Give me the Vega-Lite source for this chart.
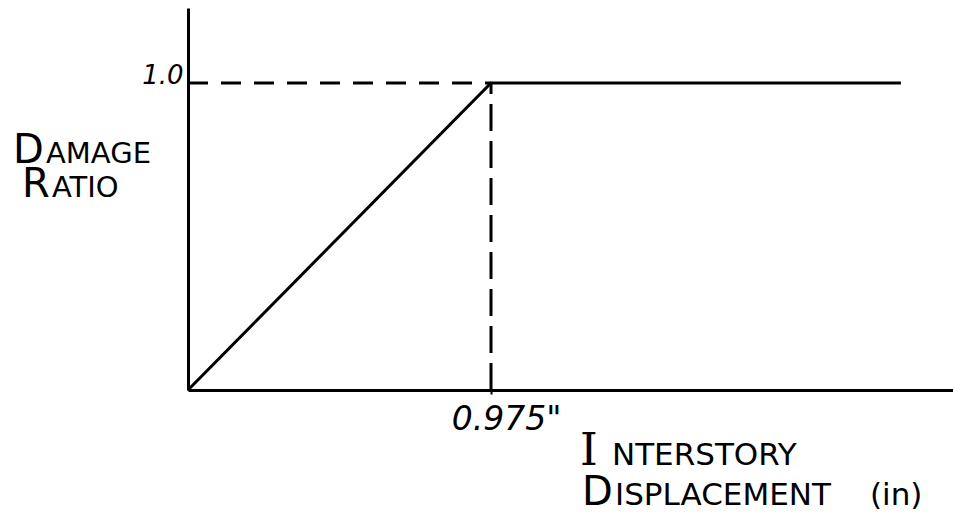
{
  "$schema": "https://vega.github.io/schema/vega-lite/v6.json",
  "width": 765,
  "height": 382,
  "autosize": {"type": "none"},
  "padding": {"left": 188, "top": 8, "right": 0, "bottom": 124},
  "background": "white",
  "config": {"view": {"stroke": null}, "font": "DejaVu Sans"},
  "datasets": {
    "curve": [
      {"x": 0, "y": 0},
      {"x": 0.975, "y": 1},
      {"x": 2.294, "y": 1}
    ],
    "labels": [
      {"role": "cap", "text": "D", "x": -0.5631, "y": 0.7394},
      {"role": "small", "text": "AMAGE", "x": -0.4569, "y": 0.7394},
      {"role": "cap", "text": "R", "x": -0.5342, "y": 0.6287},
      {"role": "small", "text": "ATIO", "x": -0.4376, "y": 0.6287},
      {"role": "serif", "text": "I", "x": 1.2614, "y": -0.2443},
      {"role": "mid", "text": "NTERSTORY", "x": 1.3643, "y": -0.2443},
      {"role": "cap", "text": "D", "x": 1.2678, "y": -0.3746},
      {"role": "mid", "text": "ISPLACEMENT", "x": 1.3740, "y": -0.3746},
      {"role": "mid", "text": "(in)", "x": 2.1945, "y": -0.3746}
    ]
  },
  "encoding": {
    "x": {
      "field": "x", "type": "quantitative",
      "scale": {"domain": [0, 2.4616], "nice": false, "zero": false},
      "axis": {
        "title": null, "grid": false, "values": [0.975],
        "labelExpr": "'0.975\"'",
        "labelFont": "DejaVu Sans", "labelFontStyle": "italic", "labelFontSize": 33,
        "labelColor": "black", "labelPadding": 9, "labelOffset": 15,
        "tickSize": 4, "tickWidth": 2, "tickColor": "black",
        "domainColor": "black", "domainWidth": 3
      }
    },
    "y": {
      "field": "y", "type": "quantitative",
      "scale": {"domain": [0, 1.2443], "nice": false, "zero": false},
      "axis": {
        "title": null, "grid": false, "values": [1],
        "labelExpr": "'1.0'",
        "labelFont": "DejaVu Sans", "labelFontStyle": "italic", "labelFontSize": 26,
        "labelColor": "black", "labelPadding": 5, "labelOffset": -8,
        "ticks": false,
        "domainColor": "black", "domainWidth": 3
      }
    }
  },
  "layer": [
    {
      "data": {"name": "curve"},
      "mark": {"type": "line", "color": "black", "strokeWidth": 3, "clip": false}
    },
    {
      "data": {"values": [{"x": 0, "x2": 0.975, "y": 1}]},
      "mark": {"type": "rule", "color": "black", "strokeWidth": 3, "strokeDash": [20, 13]},
      "encoding": {"x2": {"field": "x2"}}
    },
    {
      "data": {"values": [{"x": 0.975, "y": 0, "y2": 1}]},
      "mark": {"type": "rule", "color": "black", "strokeWidth": 3, "strokeDash": [27, 10]},
      "encoding": {"y2": {"field": "y2"}}
    },
    {
      "data": {"name": "labels"},
      "transform": [{"filter": "datum.role === 'cap'"}],
      "mark": {"type": "text", "align": "left", "baseline": "alphabetic", "fontSize": 40, "font": "DejaVu Sans", "color": "black", "clip": false},
      "encoding": {"text": {"field": "text"}}
    },
    {
      "data": {"name": "labels"},
      "transform": [{"filter": "datum.role === 'small'"}],
      "mark": {"type": "text", "align": "left", "baseline": "alphabetic", "fontSize": 29, "font": "DejaVu Sans", "color": "black", "clip": false},
      "encoding": {"text": {"field": "text"}}
    },
    {
      "data": {"name": "labels"},
      "transform": [{"filter": "datum.role === 'mid'"}],
      "mark": {"type": "text", "align": "left", "baseline": "alphabetic", "fontSize": 31, "font": "DejaVu Sans", "color": "black", "clip": false},
      "encoding": {"text": {"field": "text"}}
    },
    {
      "data": {"name": "labels"},
      "transform": [{"filter": "datum.role === 'serif'"}],
      "mark": {"type": "text", "align": "left", "baseline": "alphabetic", "fontSize": 45, "font": "DejaVu Serif", "color": "black", "clip": false},
      "encoding": {"text": {"field": "text"}}
    }
  ]
}
